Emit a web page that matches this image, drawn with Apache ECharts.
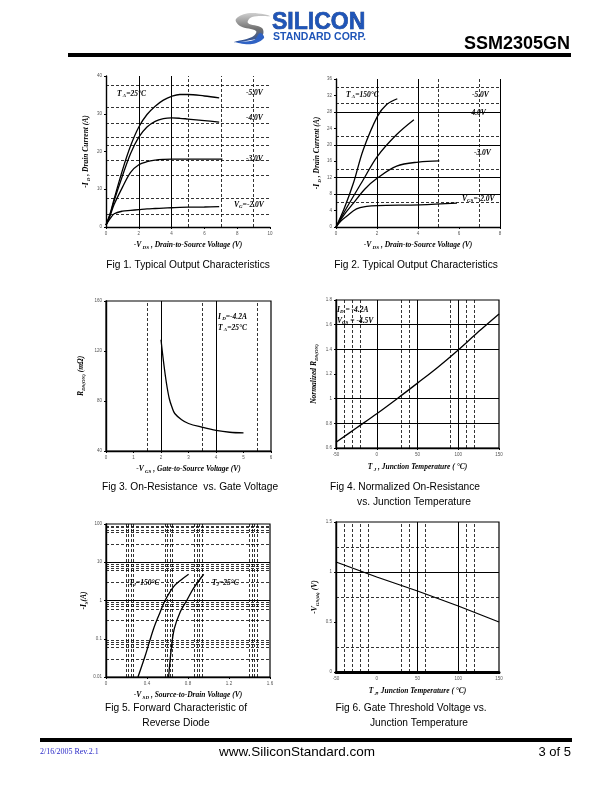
<!DOCTYPE html>
<html><head><meta charset="utf-8">
<script src="https://cdn.jsdelivr.net/npm/echarts@6/dist/echarts.min.js"></script>
<style>html,body{margin:0;padding:0;background:#fff}#c{width:612px;height:792px}</style>
</head><body><div id="c"></div>
<script>
// ---------- DATA ----------
// Fig 1 (TA=25C) output characteristics: -VDS (V) vs -ID (A)
const fig1X = [0,0.25,0.5,1,1.5,2,2.5,3,3.5,4,4.5,5,6,6.9];
const fig1V5 = [0.5,3.5,7.5,15,21.5,26.5,29.8,32,33.6,34.6,35.1,35.1,34.7,34.2];
const fig1V4 = [0.5,3.3,7,13.5,19.5,23.8,26.5,28,28.7,28.9,28.8,28.6,28.2,27.8];
const fig1V3X = [0,0.25,0.5,1,1.5,2,2.5,3,3.5,4,4.5,5,6,7.1];
const fig1V3 = [0.5,3,6,10.5,14.5,16.5,17.3,17.7,17.9,18,18,18,18,18];
const fig1V2 = [0.5,2.2,3.5,4.2,4.4,4.6,4.8,4.9,5.0,5.1,5.2,5.25,5.3,5.4];
// Fig 2 (TA=150C)
const fig2V5X = [0,0.4,0.85,1.33,2.02,2.47,2.99];
const fig2V5 = [0,4.5,10.7,18.8,26.9,29.8,31.2];
const fig2V4X = [0,0.5,1.33,2.02,2.96,3.8];
const fig2V4 = [0,4.5,11.5,17.2,22.5,26.1];
const fig2V3X = [0,0.4,0.85,1.4,2.02,2.96,4.02,5.04];
const fig2V3 = [0,3,5.8,9.2,11.9,14.8,15.8,16.1];
const fig2V2X = [0,0.25,0.52,1.0,1.5,2.02,4.1,5.9];
const fig2V2 = [0,1.5,2.6,4.4,5.0,5.2,5.4,5.8];
// Fig 3 RDS(ON) vs VGS
const fig3X = [2,2.1,2.2,2.3,2.4,2.5,2.75,3,3.5,4,4.5,5];
const fig3Y = [129,110,94,82,75,70,65,62,59,56.5,55,54.5];
// Fig 4 normalized RDS(ON) vs TJ
const fig4X = [-50,-25,0,25,50,75,100,125,150];
const fig4Y = [0.646,0.762,0.878,1.0,1.126,1.255,1.395,1.544,1.687];
// Fig 5 diode forward
const fig5HotX = [0.312,0.384,0.465,0.53,0.579,0.66,0.732,0.806];
const fig5HotY = [0.01,0.037,0.186,0.51,1.03,2.3,3.45,4.86];
const fig5RoomX = [0.611,0.637,0.667,0.725,0.79,0.855,0.953];
const fig5RoomY = [0.01,0.055,0.186,0.51,1.03,2.1,4.86];
// Fig 6 VGS(th) vs TJ
const fig6X = [-50,0,50,100,150];
const fig6Y = [1.10,0.95,0.81,0.66,0.50];

// grid-line positions (axis values)
const g1VSolid=[2,4], g1VDash=[5,7,9], g1HDash=[3.5,7.5,13.7,17.7,21.7,23.7,27.6,31.6,37.5];
const g2VSolid=[2,4,8], g2VDash=[5,7], g2HSolid=[8,12,20,28], g2HDash=[6,14,22,30,34];
const g3VSolid=[2,4], g3VDash=[1.5,3.5,5.5];
const g4VSolid=[0,50,100], g4VDash=[-40,-30,-20,30,40,90,110,120], g4HSolid=[0.8,1.0,1.4,1.6];
const g5VDash=[0.195,0.221,0.247,0.273,0.579,0.602,0.628,0.654,0.865,0.888,0.914,0.943,1.40,1.425,1.45,1.475];
const g5HSolid=[1,10];
const g5Minor=[3,6,7,8,9];
const g6VSolid=[50,100], g6VDash=[-40,-30,-20,-10,30,40,60,110,120], g6HSolid=[1.0], g6HDash=[0.25,0.75,1.25];

// ---------- HELPERS ----------
const zip=(xs,ys)=>xs.map((x,i)=>[x,ys[i]]);
const SERIF='"Liberation Serif","DejaVu Serif",serif';
const SANS='"Liberation Sans",Arial,sans-serif';
const baseRich={
  i:{fontFamily:SERIF,fontStyle:'italic',fontWeight:'bold',fontSize:7.5,color:'#000'},
  s:{fontFamily:SERIF,fontStyle:'italic',fontWeight:'bold',fontSize:5,color:'#000',padding:[4,0,0,0]}
};
function ml(vs,axis,type){return vs.map(v=>({[axis]:v,lineStyle:{type:type==='solid'?'solid':[3,2],color:'#000',width:type==='solid'?1:0.8}}));}
function marks(list){
  return {silent:true,symbol:['none','none'],label:{show:false},animation:false,
    lineStyle:{color:'#000'},emphasis:{disabled:true},data:list};
}
function curve(xs,ys,gi,mk){
  const s={type:'line',xAxisIndex:gi,yAxisIndex:gi,data:zip(xs,ys),showSymbol:false,smooth:0.35,
    lineStyle:{color:'#000',width:1.3},silent:true,animation:false,z:5};
  if(mk) s.markLine=marks(mk);
  return s;
}
const tickLabel={fontSize:4.5,color:'#555',fontFamily:SANS,margin:4};
function xAx(gi,min,max,interval,name,extra){
  return Object.assign({type:'value',gridIndex:gi,min,max,interval,
    axisLine:{show:true,onZero:false,lineStyle:{color:'#000',width:1.4}},
    axisTick:{show:true,length:2,lineStyle:{color:'#000'}},
    axisLabel:tickLabel,splitLine:{show:false},
    name,nameLocation:'middle',nameGap:14,nameTextStyle:{rich:baseRich}},extra||{});
}
function yAx(gi,min,max,interval,name,extra){
  const o={type:'value',gridIndex:gi,min,max,
    axisLine:{show:true,onZero:false,lineStyle:{color:'#000',width:1.4}},
    axisTick:{show:true,length:2,lineStyle:{color:'#000'}},
    axisLabel:tickLabel,splitLine:{show:false},
    name,nameLocation:'middle',nameRotate:90,nameGap:14,nameTextStyle:{rich:baseRich}};
  if(interval!=null) o.interval=interval;
  return Object.assign(o,extra||{});
}
function rt(x,y,text){
  return {type:'text',x,y,silent:true,z:10,style:{text,rich:baseRich,fill:'#000',verticalAlign:'middle'}};
}
function cap(x,y,text){
  return {type:'text',x,y,silent:true,style:{text,font:'10.2px '+SANS,fill:'#000',align:'center',verticalAlign:'middle'}};
}

const grids=[
  {left:106,top:76,width:164,height:151},
  {left:336,top:79,width:164,height:148},
  {left:106,top:301,width:165,height:150,show:true,borderColor:'#000',borderWidth:1.2},
  {left:336,top:300,width:163,height:148,show:true,borderColor:'#000',borderWidth:1.2},
  {left:106,top:524,width:164,height:153,show:true,borderColor:'#000',borderWidth:1.2},
  {left:336,top:522,width:163,height:150,show:true,borderColor:'#000',borderWidth:1.2}
];

const xAxes=[
  xAx(0,0,10,2,'{i|-V}{s| DS}{i| , Drain-to-Source Voltage (V)}'),
  xAx(1,0,8,2,'{i|-V}{s| DS}{i| , Drain-to-Source Voltage (V)}'),
  xAx(2,0,6,1,'{i|-V}{s| GS}{i| , Gate-to-Source Voltage (V)}'),
  xAx(3,-50,150,50,'{i|T}{s| J}{i| , Junction Temperature ( °C)}',{nameGap:15}),
  xAx(4,0,1.6,0.4,'{i|-V}{s| SD}{i| , Source-to-Drain Voltage (V)}'),
  xAx(5,-50,150,50,'{i|T}{s| J}{i|, Junction Temperature ( °C)}',{nameGap:15,axisLine:{show:true,onZero:false,lineStyle:{color:'#000',width:3}}})
];
const yAxes=[
  yAx(0,0,40,10,'{i|-I}{s| D}{i| , Drain Current (A)}',{nameGap:15}),
  yAx(1,0,36,4,'{i|-I}{s| D}{i| , Drain Current (A)}',{nameGap:14}),
  yAx(2,40,160,40,'{i|R}{s|DS(ON)}{i| (mΩ)}',{nameGap:20}),
  yAx(3,0.6,1.8,0.2,'{i|Normalized R}{s|DS(ON)}',{nameGap:17}),
  yAx(4,0.01,100,null,'{i|-I}{s|S}{i|(A)}',{type:'log',logBase:10,nameGap:17}),
  yAx(5,0,1.5,0.5,'{i|-V}{s|GS(th)}{i| (V)}',{nameGap:16})
];

// minor log lines for fig5
const g5HDash=[];
[0.01,0.1,1,10].forEach(d=>g5Minor.forEach(m=>g5HDash.push(+(d*m).toPrecision(3))));

const series=[
  curve(fig1X,fig1V5,0,[...ml(g1VSolid,'xAxis','solid'),...ml(g1VDash,'xAxis','dashed'),...ml(g1HDash,'yAxis','dashed')]),
  curve(fig1X,fig1V4,0),curve(fig1V3X,fig1V3,0),curve(fig1X,fig1V2,0),
  curve(fig2V5X,fig2V5,1,[...ml(g2VSolid,'xAxis','solid'),...ml(g2VDash,'xAxis','dashed'),...ml(g2HSolid,'yAxis','solid'),...ml(g2HDash,'yAxis','dashed')]),
  curve(fig2V4X,fig2V4,1),curve(fig2V3X,fig2V3,1),curve(fig2V2X,fig2V2,1),
  curve(fig3X,fig3Y,2,[...ml(g3VSolid,'xAxis','solid'),...ml(g3VDash,'xAxis','dashed')]),
  curve(fig4X,fig4Y,3,[...ml(g4VSolid,'xAxis','solid'),...ml(g4VDash,'xAxis','dashed'),...ml(g4HSolid,'yAxis','solid')]),
  curve(fig5HotX,fig5HotY,4,[...ml(g5VDash,'xAxis','dashed'),...ml(g5HSolid,'yAxis','solid'),...ml(g5HDash,'yAxis','dashed')]),
  curve(fig5RoomX,fig5RoomY,4),
  Object.assign(curve(fig6X,fig6Y,5,[...ml(g6VSolid,'xAxis','solid'),...ml(g6VDash,'xAxis','dashed'),...ml(g6HSolid,'yAxis','solid'),...ml(g6HDash,'yAxis','dashed')]),{smooth:false})
];

const graphic=[
  // header logo
  {type:'polygon',silent:true,shape:{smooth:0.4,points:[[270,16],[250,13],[236,19],[240,26],[256,31],[252,37],[234,42],[246,41],[262,36],[262,28],[248,23],[252,17]]},
   style:{fill:{type:'linear',x:0,y:0,x2:0,y2:1,colorStops:[{offset:0,color:'#d0d0d0'},{offset:0.55,color:'#707070'},{offset:1,color:'#2a4f9a'}]}}},
  {type:'polygon',silent:true,shape:{smooth:0.4,points:[[236,42],[254,40],[260,33],[264,38],[252,44]]},style:{fill:'#2f62c4'}},
  {type:'text',x:272,y:23,silent:true,style:{text:'SILICON',font:'bold 23px '+SANS,fill:'#1f55b8',stroke:'#0d2f70',lineWidth:0.6,verticalAlign:'middle'}},
  {type:'text',x:273,y:37,silent:true,style:{text:'STANDARD CORP.',font:'bold 10.5px '+SANS,fill:'#1f55b8',verticalAlign:'middle'}},
  {type:'text',x:570,y:44,silent:true,style:{text:'SSM2305GN',font:'bold 18px '+SANS,fill:'#000',align:'right',verticalAlign:'middle'}},
  {type:'rect',silent:true,shape:{x:68,y:53,width:503,height:4},style:{fill:'#000'}},
  // footer
  {type:'rect',silent:true,shape:{x:40,y:738,width:532,height:4},style:{fill:'#000'}},
  {type:'text',x:40,y:752,silent:true,style:{text:'2/16/2005 Rev.2.1',font:'8px '+SERIF,fill:'#2b2bc8',verticalAlign:'middle'}},
  {type:'text',x:297,y:752,silent:true,style:{text:'www.SiliconStandard.com',font:'13.5px '+SANS,fill:'#000',align:'center',verticalAlign:'middle'}},
  {type:'text',x:571,y:752,silent:true,style:{text:'3 of 5',font:'13px '+SANS,fill:'#000',align:'right',verticalAlign:'middle'}},
  // captions
  cap(188,265,'Fig 1. Typical Output Characteristics'),
  cap(416,265,'Fig 2. Typical Output Characteristics'),
  cap(190,487,'Fig 3. On-Resistance  vs. Gate Voltage'),
  cap(405,487,'Fig 4. Normalized On-Resistance'),
  cap(414,502,'vs. Junction Temperature'),
  cap(176,708,'Fig 5. Forward Characteristic of'),
  cap(176,723,'Reverse Diode'),
  cap(411,708,'Fig 6. Gate Threshold Voltage vs.'),
  cap(419,723,'Junction Temperature'),
  // in-plot annotations
  rt(117,94,'{i|T}{s| A}{i|=25°C}'),
  rt(246,93,'{i|-5.0V}'),rt(246,118,'{i|-4.0V}'),rt(246,159,'{i|-3.0V}'),rt(234,205,'{i|V}{s|G}{i|=-2.0V}'),
  rt(346,95,'{i|T}{s| A}{i|=150°C}'),
  rt(472,95,'{i|-5.0V}'),rt(469,113,'{i|-4.0V}'),rt(474,153,'{i|-3.0V}'),rt(462,199,'{i|V}{s|GS}{i|=-2.0V}'),
  rt(218,317,'{i|I}{s| D}{i|=-4.2A}'),rt(218,328,'{i|T}{s| A}{i|=25°C}'),
  rt(337,310,'{i|I}{s|D}{i| = -4.2A}'),rt(337,321,'{i|V}{s|GS}{i| = -4.5V}'),
  rt(129,583,'{i|T}{s|J}{i|=150°C}'),rt(212,583,'{i|T}{s|J}{i|=25°C}')
];

const chart=echarts.init(document.getElementById('c'),null,{renderer:'canvas'});
chart.setOption({animation:false,backgroundColor:'#fff',grid:grids,xAxis:xAxes,yAxis:yAxes,series,graphic});
</script></body></html>
